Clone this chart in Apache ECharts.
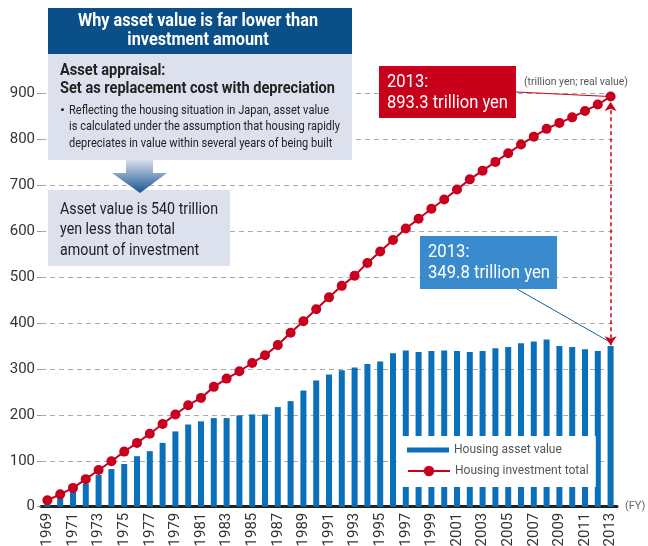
<!DOCTYPE html>
<html>
<head>
<meta charset="utf-8">
<script src="https://cdn.jsdelivr.net/npm/echarts@6/dist/echarts.min.js"></script>
<style>
  html, body { margin: 0; padding: 0; background: #fff; }
  #chart { width: 648px; height: 546px; }
</style>
</head>
<body>
<div id="chart"></div>
<script>
// fiscal years 1969 - 2013
const years = ['1969','1970','1971','1972','1973','1974','1975','1976','1977','1978',
  '1979','1980','1981','1982','1983','1984','1985','1986','1987','1988',
  '1989','1990','1991','1992','1993','1994','1995','1996','1997','1998',
  '1999','2000','2001','2002','2003','2004','2005','2006','2007','2008',
  '2009','2010','2011','2012','2013']

// Housing asset value (trillion yen)
const assetValue = [8, 20, 36, 50, 69, 82, 93, 110, 121, 139,
  164, 179, 186, 193, 193, 199, 201, 201, 217, 230,
  253, 275, 288, 297, 303, 311, 316, 334, 340, 337,
  339, 340, 339, 337, 339, 345, 348, 356, 360, 364,
  350, 348, 343, 339, 349.8]

// Housing investment total (trillion yen)
const investTotal = [14, 27, 41, 60, 80, 99, 120, 139, 159, 180,
  201, 221, 237, 261, 279, 295, 313, 330, 352, 379,
  404, 430, 456, 481, 503, 531, 556, 581, 606, 627,
  649, 669, 691, 713, 732, 751, 770, 789, 806, 823,
  836, 848, 862, 876, 893.3]

const yTicks = [0, 100, 200, 300, 400, 500, 600, 700, 800, 900]

const FONT = 'Roboto, "Liberation Sans", sans-serif'
const RED = '#c8001e'
const BLUE = '#0a70b9'
const last = years.length - 1

// squeeze a text block horizontally so its longest line gets the given width
const measureCtx = document.createElement('canvas').getContext('2d')
function fitText(x, y, text, font, lineHeight, fill, width, align) {
  measureCtx.font = font
  const w = Math.max(...text.split('\n').map(s => measureCtx.measureText(s).width))
  return {
    type: 'text', z: 11, x: x, y: y, scaleX: width / w,
    style: { x: 0, y: 0, text: text, font: font, lineHeight: lineHeight, fill: fill, textAlign: align || 'left' }
  }
}

const chart = echarts.init(document.getElementById('chart'))

const option = {
  backgroundColor: '#fff',
  animation: false,
  textStyle: { fontFamily: FONT },
  grid: { left: 41, right: 31, top: 93.5, bottom: 39.3, outerBoundsMode: 'none', containLabel: false },
  legend: [
    {
      data: [{ name: 'Housing asset value', icon: 'rect' }],
      left: 397, top: 436,
      padding: [8, 34, 31, 10],
      backgroundColor: '#fff',
      itemWidth: 42, itemHeight: 5,
      textStyle: { color: '#555', fontSize: 12, fontFamily: FONT }
    },
    {
      data: ['Housing investment total'],
      left: 397, top: 460,
      padding: [5, 10],
      itemWidth: 42, itemHeight: 13,
      textStyle: { color: '#555', fontSize: 12, fontFamily: FONT }
    }
  ],
  xAxis: {
    type: 'category',
    data: years,
    name: '(FY)',
    nameLocation: 'end',
    nameGap: 8,
    nameTextStyle: { color: '#666', fontSize: 11, fontFamily: FONT, verticalAlign: 'middle' },
    axisLine: { lineStyle: { color: '#222', width: 3 } },
    axisTick: { show: false },
    axisLabel: { interval: 1, rotate: 90, fontSize: 15, color: '#333', margin: 6, fontFamily: FONT }
  },
  yAxis: {
    type: 'value',
    min: yTicks[0],
    max: yTicks[yTicks.length - 1],
    interval: 100,
    axisLine: { show: false },
    axisTick: { show: true, length: 4, lineStyle: { color: '#999' } },
    axisLabel: { fontSize: 15, color: '#333', margin: 6, fontFamily: FONT },
    splitLine: { lineStyle: { color: '#aaa', type: [5, 4], width: 1 } }
  },
  series: [
    {
      name: 'Housing asset value',
      type: 'bar',
      data: assetValue,
      barWidth: 6,
      itemStyle: { color: BLUE },
      z: 2,
      markLine: {
        silent: true,
        symbol: 'none',
        label: { show: false },
        lineStyle: { color: '#1a5f9a', width: 1, type: 'solid' },
        data: [[{ x: 517, y: 289 }, { coord: [years[last], assetValue[last] + 8] }]]
      }
    },
    {
      name: 'Housing investment total',
      type: 'line',
      data: investTotal,
      symbol: 'circle',
      symbolSize: 10,
      showAllSymbol: true,
      lineStyle: { color: RED, width: 2 },
      itemStyle: { color: RED },
      z: 3,
      markLine: {
        silent: true,
        label: { show: false },
        data: [
          [
            { coord: [years[last], assetValue[last] + 2], symbol: 'arrow', symbolSize: 9 },
            { coord: [years[last], investTotal[last] - 12], symbol: 'arrow', symbolSize: 9 }
          ],
          [
            { x: 516, y: 92, symbol: 'none', lineStyle: { color: RED, width: 1, type: 'solid' } },
            { coord: [years[last], investTotal[last]], symbol: 'none' }
          ]
        ],
        lineStyle: { color: RED, width: 1.5, type: [4, 3] }
      }
    }
  ],
  graphic: [
    // title box
    { type: 'rect', z: 10, shape: { x: 48, y: 8, width: 304, height: 46 }, style: { fill: '#0b4f88' } },
    fitText(198, 12, 'Why asset value is far lower than\ninvestment amount', 'bold 19px ' + FONT, 19, '#fff', 240, 'center'),
    // appraisal box
    { type: 'rect', z: 10, shape: { x: 48, y: 54, width: 304, height: 106 }, style: { fill: '#dde1ee' } },
    fitText(60, 61, 'Asset appraisal:\nSet as replacement cost with depreciation', 'bold 17px ' + FONT, 18.5, '#222', 275),
    fitText(60, 102, '•', '13px ' + FONT, 16.7, '#222', 5),
    fitText(69, 102, 'Reflecting the housing situation in Japan, asset value\nis calculated under the assumption that housing rapidly\ndepreciates in value within several years of being built',
      '13px ' + FONT, 16.7, '#222', 271),
    // result box
    { type: 'rect', z: 10, shape: { x: 48, y: 190, width: 182, height: 76 }, style: { fill: '#dde1ee' } },
    fitText(60, 199, 'Asset value is 540 trillion\nyen less than total\namount of investment', '17px ' + FONT, 20.5, '#222', 158),
    // down arrow
    { type: 'polygon', z: 12,
      shape: { points: [[126, 160], [153, 160], [153, 173], [167, 173], [140, 193], [112, 173], [126, 173]] },
      style: { fill: new echarts.graphic.LinearGradient(0, 0, 0, 1, [
        { offset: 0, color: '#d3deec' }, { offset: 1, color: '#1d5592' }]) } },
    // red callout
    { type: 'rect', z: 10, shape: { x: 379, y: 66, width: 137, height: 52 }, style: { fill: '#c8001a' } },
    fitText(387, 72, '2013:\n893.3 trillion yen', '18px ' + FONT, 21, '#fff', 121),
    fitText(524, 76, '(trillion yen; real value)', '11px ' + FONT, 13, '#555', 104),
    // blue callout
    { type: 'rect', z: 10, shape: { x: 420, y: 236, width: 137, height: 53 }, style: { fill: '#3a8bcd' } },
    fitText(428, 242, '2013:\n349.8 trillion yen', '18px ' + FONT, 21, '#fff', 122)
  ]
}

chart.setOption(option)
</script>
</body>
</html>
